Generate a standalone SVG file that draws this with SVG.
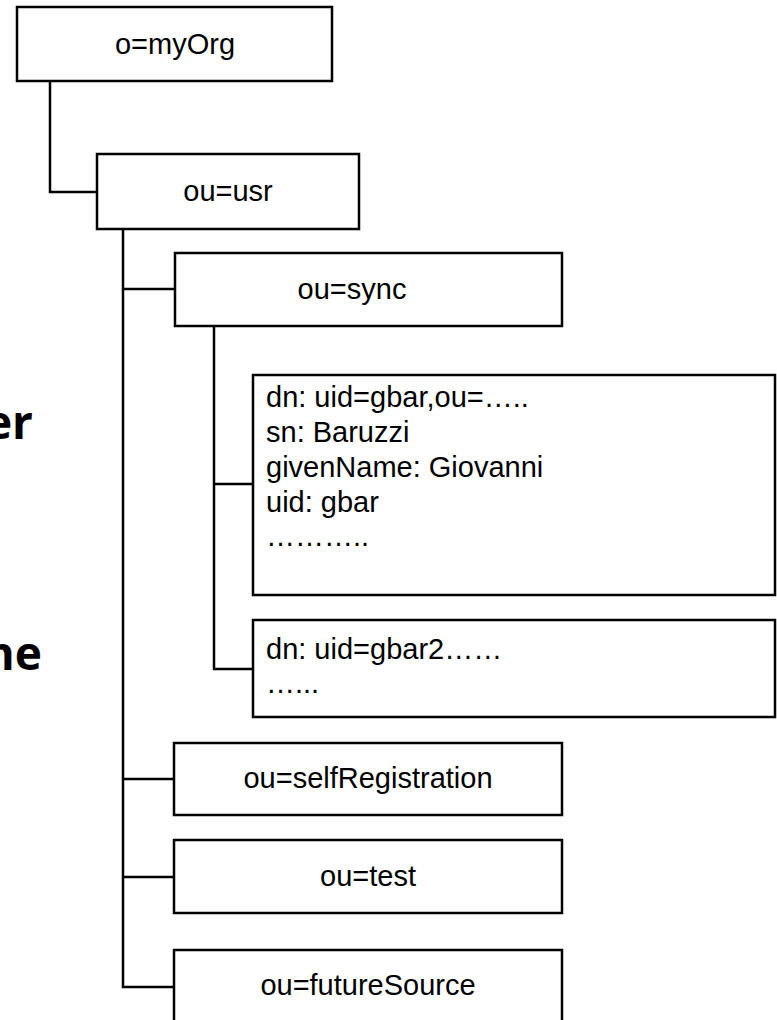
<svg xmlns="http://www.w3.org/2000/svg" width="777" height="1020" viewBox="0 0 777 1020">
<style>
.box{fill:#fff;stroke:#000;stroke-width:2.5}
.ln{fill:none;stroke:#000;stroke-width:2.5}
.t{font-family:"Liberation Sans",Arial,sans-serif;font-size:29px;fill:#000}
.c{text-anchor:middle}
.big{font-family:"Open Sans","Noto Sans",sans-serif;font-weight:bold;font-size:46px;fill:#000;text-anchor:end}
</style>
<rect width="777" height="1020" fill="#fff"/>
<g id="side-text">
<text class="big" x="33" y="439">er</text>
<text class="big" x="42" y="670">ne</text>
</g>
<g id="connectors">
<polyline class="ln" points="50,81 50,192 97,192"/>
<polyline class="ln" points="123,229 123,987 174,987"/>
<line class="ln" x1="123" y1="289" x2="175" y2="289"/>
<line class="ln" x1="123" y1="779" x2="174" y2="779"/>
<line class="ln" x1="123" y1="877" x2="174" y2="877"/>
<polyline class="ln" points="214,326 214,669 253,669"/>
<line class="ln" x1="214" y1="484" x2="253" y2="484"/>
</g>
<g id="n-myOrg"><rect class="box" x="17" y="7" width="315" height="74"/><text class="t c" x="175" y="54">o=myOrg</text></g>
<g id="n-usr"><rect class="box" x="97" y="154" width="262" height="75"/><text class="t c" x="228" y="201">ou=usr</text></g>
<g id="n-sync"><rect class="box" x="175" y="253" width="387" height="73"/><text class="t c" x="352" y="299">ou=sync</text></g>
<g id="n-gbar"><rect class="box" x="253" y="375" width="522" height="220"/>
<text class="t" x="266" y="407">dn: uid=gbar,ou=…..</text>
<text class="t" x="266" y="442">sn: Baruzzi</text>
<text class="t" x="266" y="477">givenName: Giovanni</text>
<text class="t" x="266" y="512">uid: gbar</text>
<text class="t" x="266" y="546">………..</text>
</g>
<g id="n-gbar2"><rect class="box" x="253" y="620" width="522" height="97"/>
<text class="t" x="266" y="659">dn: uid=gbar2……</text>
<text class="t" x="266" y="693">…...</text>
</g>
<g id="n-selfRegistration"><rect class="box" x="174" y="743" width="388" height="72"/><text class="t c" x="368" y="788">ou=selfRegistration</text></g>
<g id="n-test"><rect class="box" x="174" y="840" width="388" height="73"/><text class="t c" x="368" y="886">ou=test</text></g>
<g id="n-futureSource"><rect class="box" x="174" y="950" width="388" height="90"/><text class="t c" x="368" y="995">ou=futureSource</text></g>
</svg>
